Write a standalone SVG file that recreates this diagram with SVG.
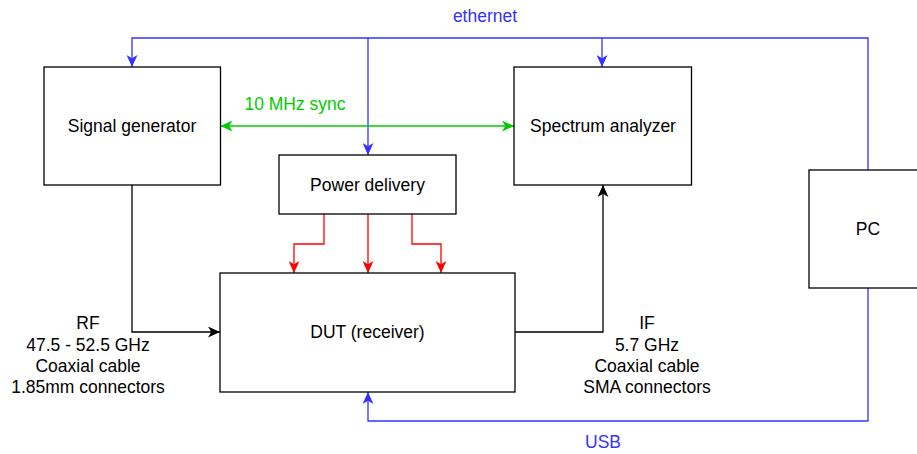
<svg xmlns="http://www.w3.org/2000/svg" width="917" height="454" viewBox="0 0 917 454">
<style>
.box{fill:#fff;stroke:#000;stroke-width:1.3}
text{font-family:"Liberation Sans",Arial,sans-serif;font-size:17.5px;text-anchor:middle;fill:#000}
.c{fill:none;stroke-width:1.3}
.blue{stroke:#3333FF}
.green{stroke:#00CC00}
.red{stroke:#FF0000}
.black{stroke:#000}
</style>
<defs>
<marker id="aBlue" markerUnits="userSpaceOnUse" markerWidth="12" markerHeight="11" refX="11" refY="5" orient="auto" viewBox="0 0 11 10"><path d="M0,0 L11,5 L0,10 L3,5 Z" fill="#3333FF"/></marker>
<marker id="aGreen" markerUnits="userSpaceOnUse" markerWidth="12" markerHeight="11" refX="11" refY="5" orient="auto-start-reverse" viewBox="0 0 11 10"><path d="M0,0 L11,5 L0,10 L3,5 Z" fill="#00CC00"/></marker>
<marker id="aRed" markerUnits="userSpaceOnUse" markerWidth="12" markerHeight="11" refX="11" refY="5" orient="auto" viewBox="0 0 11 10"><path d="M0,0 L11,5 L0,10 L3,5 Z" fill="#FF0000"/></marker>
<marker id="aBlack" markerUnits="userSpaceOnUse" markerWidth="12" markerHeight="11" refX="11" refY="5" orient="auto" viewBox="0 0 11 10"><path d="M0,0 L11,5 L0,10 L3,5 Z" fill="#000"/></marker>
</defs>
<rect width="917" height="454" fill="#fff"/>
<g id="connectors">
<path class="c blue" d="M868,170 V38 H132 V67" marker-end="url(#aBlue)"/>
<path class="c blue" d="M368,38 V155" marker-end="url(#aBlue)"/>
<path class="c blue" d="M602,38 V67" marker-end="url(#aBlue)"/>
<path class="c blue" d="M868,288 V421 H368 V392" marker-end="url(#aBlue)"/>
<path class="c green" d="M220.5,126 H514" marker-start="url(#aGreen)" marker-end="url(#aGreen)"/>
<path class="c red" d="M324,214 V244 H294 V273" marker-end="url(#aRed)"/>
<path class="c red" d="M368,214 V273" marker-end="url(#aRed)"/>
<path class="c red" d="M412,214 V244 H441 V273" marker-end="url(#aRed)"/>
<path class="c black" d="M132,185 V332 H220" marker-end="url(#aBlack)"/>
<path class="c black" d="M515,332 H603 V185" marker-end="url(#aBlack)"/>
<text x="485" y="22" fill="#3333FF" style="fill:#3333FF">ethernet</text>
<text x="295" y="110" style="fill:#00CC00">10 MHz sync</text>
<text x="603" y="448" style="fill:#3333FF">USB</text>
<text x="88" y="329">RF</text>
<text x="88" y="350.5">47.5 - 52.5 GHz</text>
<text x="88" y="372">Coaxial cable</text>
<text x="88" y="393">1.85mm connectors</text>
<text x="647" y="329">IF</text>
<text x="647" y="350.5">5.7 GHz</text>
<text x="647" y="372">Coaxial cable</text>
<text x="647" y="393">SMA connectors</text>
</g>
<g id="signal-generator"><rect class="box" x="44" y="67" width="176.5" height="118"/><text x="132" y="132">Signal generator</text></g>
<g id="spectrum-analyzer"><rect class="box" x="514" y="67" width="177.5" height="118"/><text x="603" y="132">Spectrum analyzer</text></g>
<g id="power-delivery"><rect class="box" x="279" y="155" width="177" height="59"/><text x="367.5" y="191">Power delivery</text></g>
<g id="dut"><rect class="box" x="220" y="273" width="295" height="119"/><text x="367.5" y="338">DUT (receiver)</text></g>
<g id="pc"><rect class="box" x="809" y="170" width="118" height="118"/><text x="868" y="235">PC</text></g>
</svg>
